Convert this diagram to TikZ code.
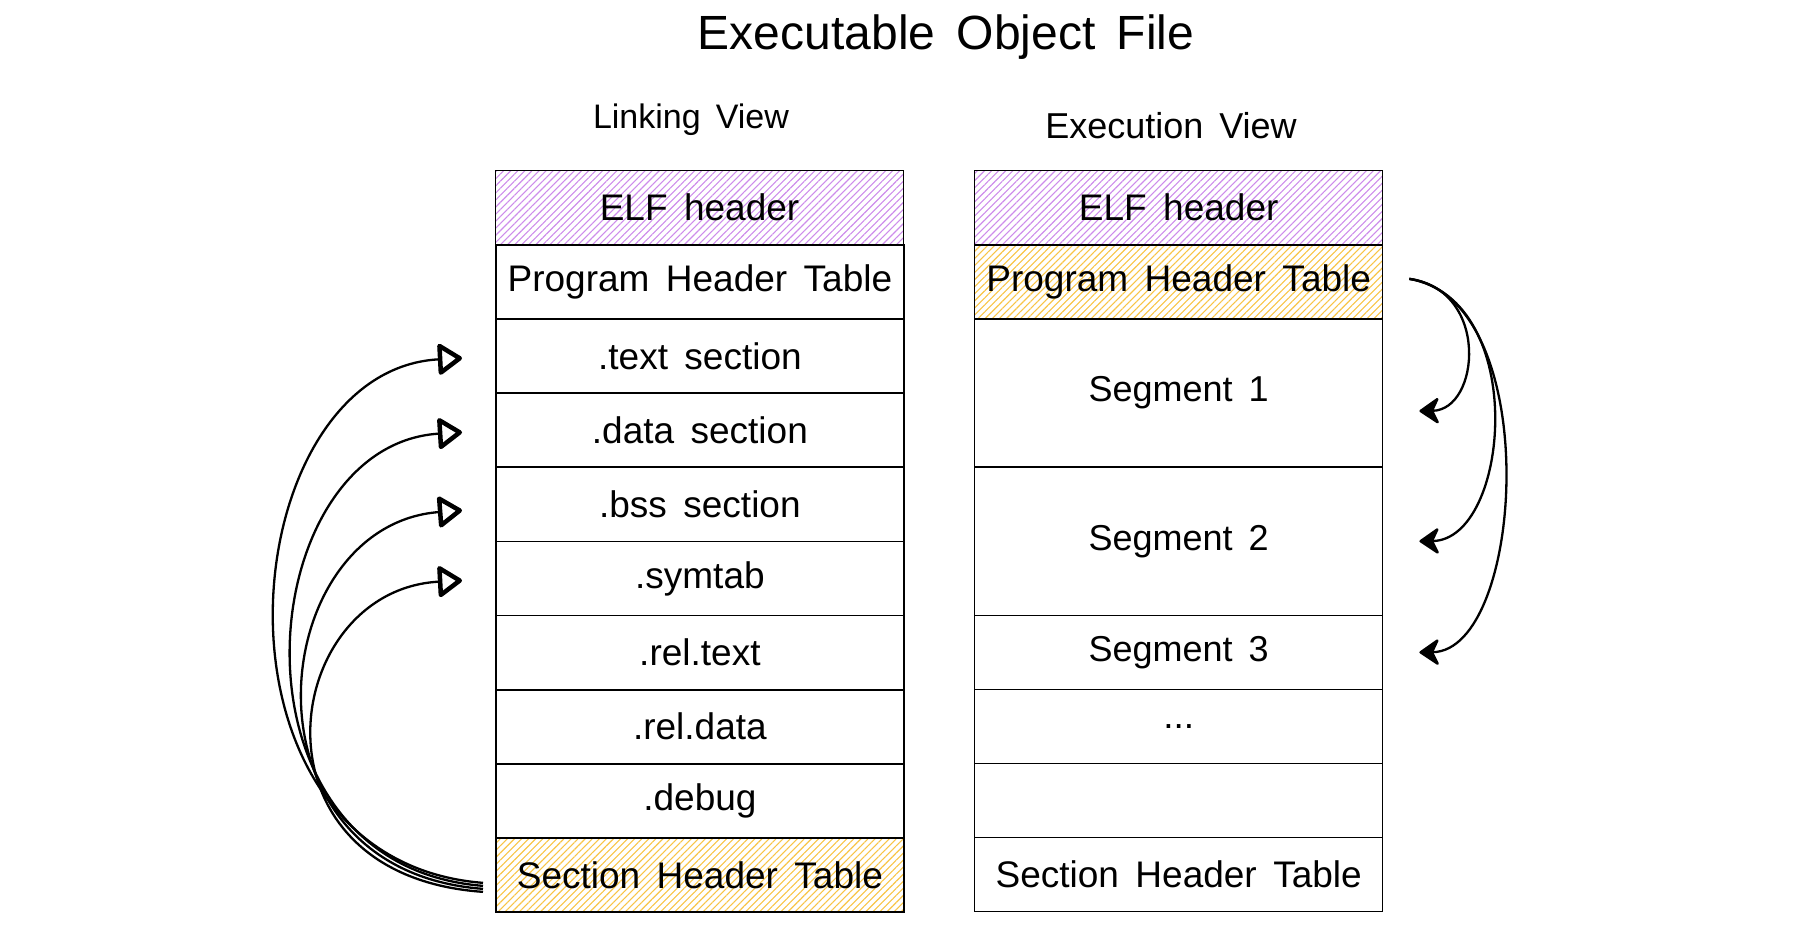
\documentclass[tikz,border=0pt]{standalone}
\usepackage{fontspec}
\setmainfont[WordSpace=1.6]{Liberation Sans}
\usetikzlibrary{arrows.meta,patterns.meta,calc}
\definecolor{hatchpurple}{RGB}{205,140,235}
\definecolor{hatchyellow}{RGB}{248,196,70}
\tikzset{
  rowbox/.style={draw=black, line width=1.8pt, minimum width=408pt, minimum height=74.1pt,
    anchor=north west, inner sep=0pt, font=\fontsize{37}{40}\selectfont},
  rrowbox/.style={rowbox, line width=1.4pt},
  segtxt/.style={font=\fontsize{36}{40}\selectfont},
  purplehatch/.style={pattern={Lines[angle=45,distance=5pt,line width=1.1pt]}, pattern color=hatchpurple},
  yellowhatch/.style={pattern={Lines[angle=45,distance=5pt,line width=1.1pt]}, pattern color=hatchyellow},
  lbl/.style={font=\fontsize{34}{38}\selectfont},
  lblb/.style={font=\fontsize{36}{38}\selectfont},
  ttl/.style={font=\fontsize{48}{52}\selectfont},
  larrow/.style={line width=2.3pt, -{Triangle[open,length=26pt,width=34pt,line width=4.5pt,round]}},
  rarrow/.style={line width=2.3pt, -{Stealth[length=22pt,width=30pt,line width=2.5pt,round]}},
}
\begin{document}
\begin{tikzpicture}[x=1pt,y=-1pt]
\useasboundingbox (0,0) rectangle (1813,929);
% titles
\node[ttl] (title) at (946,37) {Executable Object File};
\node[lbl] (linkv) at (691,120) {Linking View};
\node[lblb] (execv) at (1171,126) {Execution View};
% left column
\node[rowbox, purplehatch] (lelf) at (495,170) {ELF header};
\node[rowbox] (lpht) at (495,244.1) {Program Header Table};
\node[rowbox] (ltext) at (495,318.2) {.text section};
\node[rowbox] (ldata) at (495,392.3) {.data section};
\node[rowbox] (lbss) at (495,466.4) {.bss section};
\node[rowbox] (lsym) at (495,540.5) {.symtab};
\node[rowbox] (lreltext) at (495,614.6) {.rel.text};
\node[rowbox] (lreldata) at (495,688.7) {.rel.data};
\node[rowbox] (ldebug) at (495,762.8) {.debug};
\node[rowbox, yellowhatch] (lsht) at (495,836.9) {Section Header Table};
% right column
\node[rrowbox, purplehatch] (relf) at (974,170) {ELF header};
\node[rrowbox, yellowhatch] (rpht) at (974,244.1) {Program Header Table};
\node[rrowbox, segtxt, minimum height=148.2pt] (rseg1) at (974,318.2) {Segment 1};
\node[rrowbox, segtxt, minimum height=148.2pt] (rseg2) at (974,466.4) {Segment 2};
\node[rrowbox, segtxt] (rseg3) at (974,614.6) {Segment 3};
\node[rrowbox] (rdots) at (974,688.7) {...};
\node[rrowbox] (rempty) at (974,762.8) {};
\node[rrowbox] (rsht) at (974,836.9) {Section Header Table};
% left arrows: section header table -> sections
\coordinate (s1) at ($(lsht.west)+(-12,8)$);
\coordinate (s2) at ($(lsht.west)+(-12,11)$);
\coordinate (s3) at ($(lsht.west)+(-12,14)$);
\coordinate (s4) at ($(lsht.west)+(-12,17)$);
\coordinate (e1) at ($(ltext.west)+(-33,2)$);
\coordinate (e2) at ($(ldata.west)+(-33,2)$);
\coordinate (e3) at ($(lbss.west)+(-33,6)$);
\coordinate (e4) at ($(lsym.west)+(-33,2)$);
\draw[larrow] (s1) .. controls (190,860) and (230,370) .. (e1);
\draw[larrow] (s2) .. controls (215,865) and (250,445) .. (e2);
\draw[larrow] (s3) .. controls (230,870) and (265,525) .. (e3);
\draw[larrow] (s4) .. controls (240,875) and (280,590) .. (e4);
% right arrows: program header table -> segments
\coordinate (p0) at ($(rpht.east)+(26,-3)$);
\coordinate (f1) at ($(rseg1.east)+(36,18)$);
\coordinate (f2) at ($(rseg2.east)+(36,0)$);
\coordinate (f3) at ($(rseg3.east)+(36,0)$);
\draw[rarrow] (p0) .. controls (1490,290) and (1480,410) .. (f1);
\draw[rarrow] (p0) .. controls (1530,300) and (1510,540) .. (f2);
\draw[rarrow] (p0) .. controls (1545,300) and (1525,651) .. (f3);
\end{tikzpicture}
\end{document}
